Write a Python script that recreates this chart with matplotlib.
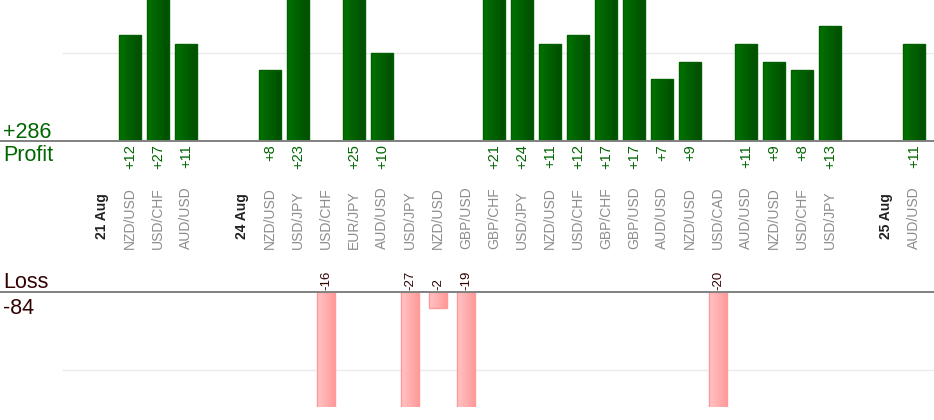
import numpy as np
import matplotlib
matplotlib.use("Agg")
import matplotlib.pyplot as plt
from matplotlib.colors import LinearSegmentedColormap
from matplotlib.lines import Line2D

plt.rcParams['font.family'] = ['Liberation Sans', 'DejaVu Sans']

# one slot per trade, date headers and spacers have no result
labels = ["", "21 Aug", "NZD/USD", "USD/CHF", "AUD/USD",
          "", "24 Aug", "NZD/USD", "USD/JPY", "USD/CHF", "EUR/JPY", "AUD/USD",
          "USD/JPY", "NZD/USD", "GBP/USD", "GBP/CHF", "USD/JPY", "NZD/USD",
          "USD/CHF", "GBP/CHF", "GBP/USD", "AUD/USD", "NZD/USD", "USD/CAD",
          "AUD/USD", "NZD/USD", "USD/CHF", "USD/JPY",
          "", "25 Aug", "AUD/USD"]
dates = ["21 Aug", "24 Aug", "25 Aug"]
results = [None, None, 12, 27, 11,
           None, None, 8, 23, -16, 25, 10,
           -27, -2, -19, 21, 24, 11,
           12, 17, 17, 7, 9, -20,
           11, 9, 8, 13,
           None, None, 11]

profit_x = [i for i, r in enumerate(results) if r is not None and r > 0]
profit_v = [results[i] for i in profit_x]
loss_x = [i for i, r in enumerate(results) if r is not None and r < 0]
loss_v = [results[i] for i in loss_x]

W, H = 934, 420
fig = plt.figure(figsize=(W / 100, H / 100), dpi=100)

ax_top = fig.add_axes([60 / W, (H - 141) / H, 874 / W, 141 / H])
ax_bot = fig.add_axes([60 / W, (H - 407) / H, 874 / W, 115 / H])

for ax in (ax_top, ax_bot):
    ax.set_xlim(-0.5, 30.71)
    for s in ax.spines.values():
        s.set_visible(False)
    ax.set_xticks([])
    ax.set_yticks([])
    ax.patch.set_alpha(0)
ax_top.set_ylim(0, 15.97)
ax_bot.set_ylim(-14.7, 0)

green = LinearSegmentedColormap.from_list("g", ["#007400", "#004c00"])
pink = LinearSegmentedColormap.from_list("p", ["#ffc4c4", "#ff9a9a"])
grad = np.linspace(0, 1, 64).reshape(1, -1)


def gradient_bars(ax, xs, vs, width, cmap, edge):
    lo, hi = ax.get_ylim()
    xl = ax.get_xlim()
    bars = ax.bar(xs, vs, width=width, color="none", edgecolor=edge,
                  linewidth=1, zorder=3)
    for b in bars:
        x0, y0 = b.get_x(), b.get_y()
        ya, yb = sorted((y0, y0 + b.get_height()))
        ya, yb = max(ya, lo), min(yb, hi)
        im = ax.imshow(grad, extent=[x0, x0 + b.get_width(), ya, yb],
                       aspect="auto", cmap=cmap, zorder=2, interpolation="bilinear")
        im.set_clip_path(b)
    ax.set_xlim(xl)
    ax.set_ylim(lo, hi)
    return bars


gradient_bars(ax_top, profit_x, profit_v, 0.81, green, "#006000")
gradient_bars(ax_bot, loss_x, loss_v, 0.64, pink, "#ff9a9a")

ax_top.axhline(10, xmin=3 / 874, color="#ebebeb", lw=1, zorder=1)
ax_bot.axhline(-10, xmin=3 / 874, color="#ebebeb", lw=1, zorder=1)

# base lines run across the whole width
for ypx in (141, 292):
    fig.add_artist(Line2D([0, 1], [(H - ypx) / H] * 2, color="#808080", lw=1.4))

# value labels
for i, v in zip(profit_x, profit_v):
    ax_top.annotate(f"+{v}", xy=(i, 0), xytext=(0, -2), textcoords="offset points",
                    rotation=90, ha="center", va="top", color="#006600", fontsize=10.5)
for i, v in zip(loss_x, loss_v):
    ax_bot.annotate(f"{v}", xy=(i, 0), xytext=(0, 1.5), textcoords="offset points",
                    rotation=90, ha="center", va="bottom", color="#330000", fontsize=9.5)

# category labels
for i, lab in enumerate(labels):
    if not lab:
        continue
    if lab in dates:
        ax_top.annotate(lab, xy=(i, 0), xytext=(0, -70.5), textcoords="offset points",
                        rotation=90, ha="center", va="bottom", color="#222222",
                        fontsize=10, fontweight="bold")
    else:
        ax_top.annotate(lab, xy=(i, 0), xytext=(0, -78), textcoords="offset points",
                        rotation=90, ha="center", va="bottom", color="#8c8c8c",
                        fontsize=10)

total_profit = sum(profit_v)
total_loss = sum(loss_v)
fig.text(3 / W, (H - 138) / H, f"+{total_profit}", color="#006600", fontsize=15.5,
         ha="left", va="baseline")
fig.text(3 / W, (H - 161) / H, "Profit", color="#006600", fontsize=15.5,
         ha="left", va="baseline")
fig.text(3 / W, (H - 288) / H, "Loss", color="#330000", fontsize=15.5,
         ha="left", va="baseline")
fig.text(3 / W, (H - 314) / H, f"{total_loss}", color="#330000", fontsize=15.5,
         ha="left", va="baseline")

fig.savefig("out.png", dpi=100)
